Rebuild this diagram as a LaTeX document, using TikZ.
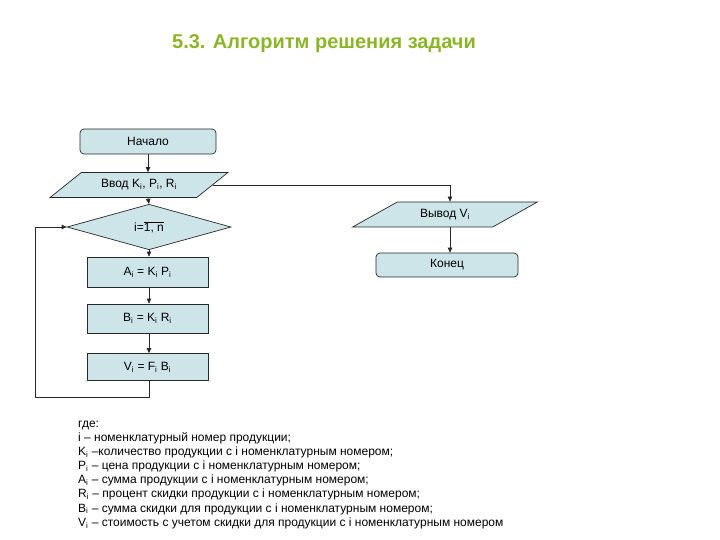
\documentclass[tikz,border=0pt]{standalone}
\usepackage{fontspec}
\setmainfont{Liberation Sans}
\usetikzlibrary{shapes.geometric,arrows.meta}
\definecolor{boxfill}{RGB}{205,229,233}
\definecolor{titlegreen}{RGB}{140,180,40}
\definecolor{edge}{RGB}{40,40,40}
\newcommand{\sbi}{\textsubscript{i}}
\begin{document}
\begin{tikzpicture}[x=1pt,y=-1pt,
  base/.style={draw=edge,fill=boxfill,line width=0.7pt,font=\fontsize{12}{14}\selectfont,inner sep=1pt},
  term/.style={base,rectangle,rounded corners=4pt,minimum width=136pt,minimum height=25pt},
  proc/.style={base,rectangle,minimum width=121pt,minimum height=28pt},
  io/.style={base,trapezium,trapezium stretches=true,minimum height=25pt},
  decis/.style={base,diamond,minimum width=164pt,minimum height=32pt},
  conn/.style={draw=edge,line width=0.7pt,-{Triangle[length=5pt,width=4.5pt]}},
  line/.style={draw=edge,line width=0.7pt}]
\useasboundingbox (0,0) rectangle (720,540);
\node[font=\bfseries\fontsize{20}{22}\selectfont,text=titlegreen] (title) at (324,44) {5.3. Алгоритм решения задачи};
\node[term] (nach) at (148,141.5) {Начало};
\node[io,trapezium left angle=31,trapezium right angle=149,minimum width=178pt] (vvod) at (139,185) {Ввод K\sbi, P\sbi, R\sbi};
\node[decis] (diam) at (149,227) {i=$\overline{\mbox{1, n}}$};
\node[proc,minimum height=30pt] (ai) at (147.5,272) {A\sbi{} = K\sbi{} P\sbi};
\node[proc,minimum height=29pt] (bi) at (147.5,318.5) {B\sbi{} = K\sbi{} R\sbi};
\node[proc,minimum height=27pt] (vi) at (147.5,367) {V\sbi{} = F\sbi{} B\sbi};
\node[io,trapezium left angle=27.5,trapezium right angle=152.5,minimum width=186pt] (vyvod) at (445,214.5) {Вывод V\sbi};
\node[term,minimum width=142pt,minimum height=24pt] (konec) at (447,265) {Конец};
\coordinate (loopc) at (35,397);
\draw[conn] (nach.south) -- (nach.south |- vvod.north);
\draw[conn] (nach.south |- vvod.south) -- (diam.north);
\draw[conn] (diam.south) -- (diam.south |- ai.north);
\draw[conn] (diam.south |- ai.south) -- (diam.south |- bi.north);
\draw[conn] (diam.south |- bi.south) -- (diam.south |- vi.north);
\draw[line] (diam.south |- vi.south) |- (loopc);
\draw[conn] (loopc) |- (diam.west);
\draw[conn] (vvod.east) -| ([xshift=5pt]vyvod.north);
\draw[conn] ([xshift=5pt]vyvod.south) -- ([xshift=5pt]vyvod.south |- konec.north);
\node[anchor=north west,align=left,inner sep=0pt,font=\fontsize{12}{14.15}\selectfont] (legend) at (78,420.5) {где:\\
i – номенклатурный номер продукции;\\
K\sbi{} –количество продукции с i номенклатурным номером;\\
P\sbi{} – цена продукции с i номенклатурным номером;\\
A\sbi{} – сумма продукции с i номенклатурным номером;\\
R\sbi{} – процент скидки продукции с i номенклатурным номером;\\
B\sbi{} – сумма скидки для продукции с i номенклатурным номером;\\
V\sbi{} – стоимость с учетом скидки для продукции с i номенклатурным номером};
\end{tikzpicture}
\end{document}
